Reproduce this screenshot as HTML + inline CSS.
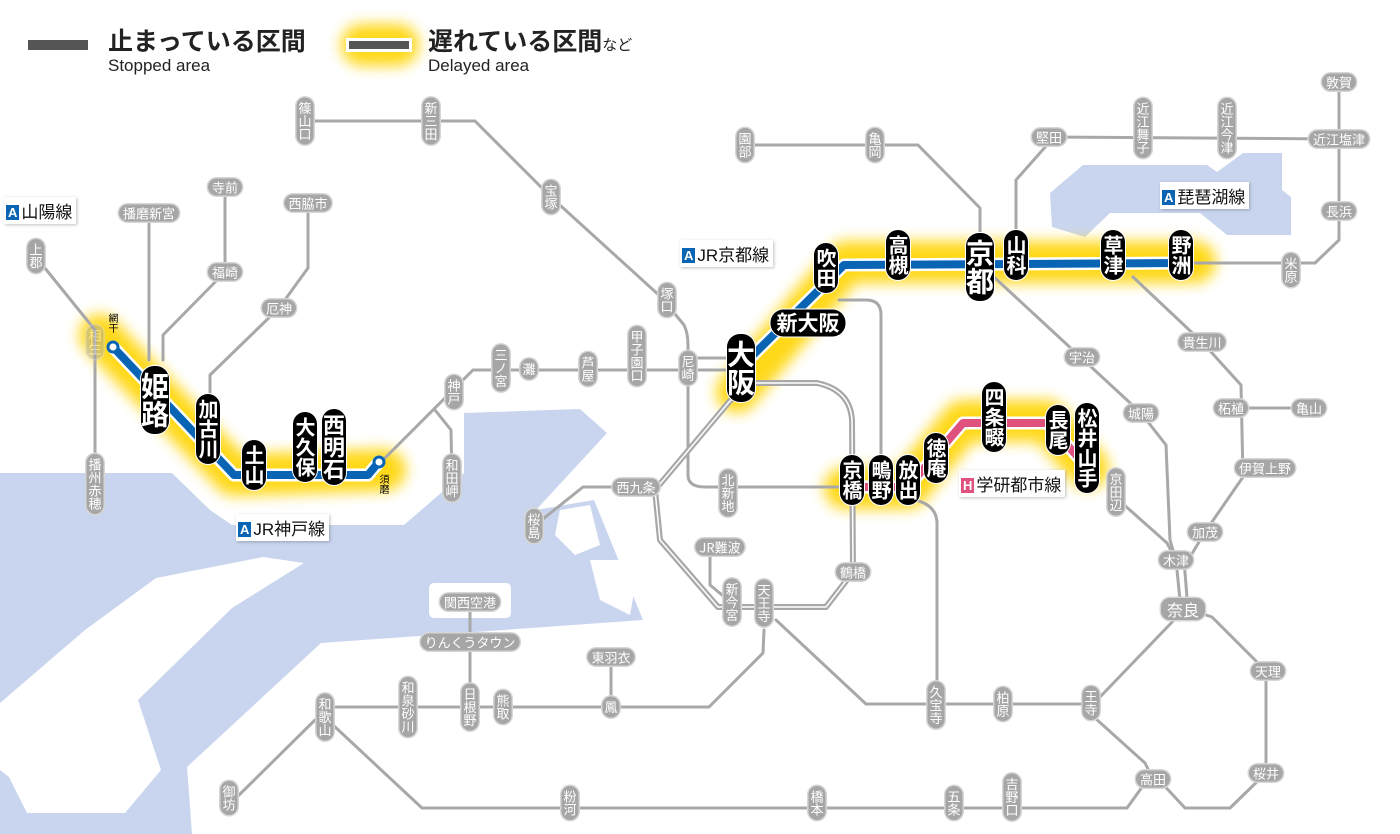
<!DOCTYPE html>
<html><head><meta charset="utf-8"><style>
body{margin:0;background:#fff;}
#m{position:relative;width:1400px;height:834px;overflow:hidden;background:#fff;font-family:"Liberation Sans","Noto Sans CJK JP",sans-serif;}
svg{position:absolute;left:0;top:0}
.p{position:absolute;transform:translate(-50%,-50%);background:#a6a6a6;color:#fff;font-size:13px;line-height:15px;border-radius:9px;padding:1px 4px;white-space:nowrap;box-shadow:0 0 0 1.5px #d6d6d6;font-family:"Noto Sans CJK JP",sans-serif;}
.v{writing-mode:vertical-rl;text-orientation:upright;padding:4px 1px;line-height:15px;}
.k{position:absolute;transform:translate(-50%,-50%);background:#000;color:#fff;font-size:20px;line-height:24px;border-radius:13px;padding:5px 0;white-space:nowrap;font-weight:bold;writing-mode:vertical-rl;text-orientation:upright;font-family:"Noto Sans CJK JP",sans-serif;box-shadow:0 0 0 1px #fff;}
.big{font-size:28px;line-height:28px;padding:6px 0;}
.lab{position:absolute;background:#fff;font-size:17px;color:#111;padding:1px 4px 1px 2px;box-shadow:1px 1px 3px rgba(0,0,0,.25);white-space:nowrap;font-family:"Liberation Sans","Noto Sans CJK JP",sans-serif;}
.lab b{display:inline-block;background:#0a64b4;color:#fff;font-size:13px;line-height:15px;padding:0 2px;margin-right:2px;vertical-align:1px;}
.sm{position:absolute;font-size:10px;line-height:10px;color:#000;writing-mode:vertical-rl;text-orientation:upright;font-family:"Noto Sans CJK JP",sans-serif;}
.t{position:absolute;color:#222;white-space:nowrap;font-family:"Liberation Sans","Noto Sans CJK JP",sans-serif;}
</style></head><body><div id="m">
<svg width="1400" height="834" viewBox="0 0 1400 834">
<defs><filter id="bl" x="-20%" y="-20%" width="140%" height="140%"><feGaussianBlur stdDeviation="7"/></filter></defs>
<g fill="#c9d5ee">
<polygon points="0,473 172,473 210,510 232,525 404,525 464,473 464,413 580,409 607,433 536,510 594,500 643,620 321,643 187,767 192,834 0,834"/>
<polygon points="1083,165 1207,165 1217,172 1243,153 1282,153 1282,190 1291,197 1291,235 1227,235 1200,213 1110,213 1085,237 1052,227 1050,193"/>
</g>
<g fill="#fff">
<polygon points="263,557 304,563 232,608 138,700 161,770 125,813 27,813 9,777 0,770 0,703 85,630 156,578"/>
<rect x="429" y="583" width="82" height="35" rx="5"/>
<polygon points="560,510 590,505 600,545 575,555 555,535"/>
<polygon points="590,560 640,560 630,615 600,600"/>
</g>
<g fill="none" stroke-linecap="round" stroke-linejoin="round">
<path d="M100,335 L234,475 L385,470 M737,392 L846,262 L1195,262 M845,488 L908,488 L963,421 L1047,421 L1088,468 M362,45 L398,45" stroke="#ffd400" stroke-width="42" filter="url(#bl)" opacity=".9"/>
<g stroke="#a8a8a8" stroke-width="3">
<path d="M40,262 L95,330 L95,480"/>
<path d="M149,218 L149,360"/>
<path d="M225,190 L225,272 L163,335 L163,360"/>
<path d="M308,208 L308,268 L279,308 L210,375 L210,405"/>
<path d="M385,458 L473,370 L740,370"/>
<path d="M688,358 L740,358"/>
<path d="M435,410 L451,430 L452,480"/>
<path d="M305,121 L475,121 L551,197 L661,297 L684,325 Q688,333 688,345 L688,475 Q688,487 705,487 L852,487"/>
<path d="M636,487 L583,487 L538,523"/>
<path d="M710,550 L710,585 L728,600"/>
<path d="M764,630 L763,653 L709,707 L325,707"/>
<path d="M470,602 L470,707"/>
<path d="M611,657 L611,707"/>
<path d="M776,620 L866,704 L1091,704 L1100,697 L1176,618 L1191,610 L1212,617 L1255,660 L1266,671 L1266,773 L1230,808 L1185,808 L1158,779"/>
<path d="M1095,718 L1145,763 L1153,779 L1145,783 L1127,808 L422,808 L333,725"/>
<path d="M315,720 L237,797"/>
<path d="M915,500 Q936,505 937,522 L937,690"/>
<path d="M881,463 L881,315 Q881,300 866,300 L839,300"/>
<path d="M745,145 L918,145 L980,208 L980,240"/>
<path d="M1049,137 L1339,139"/>
<path d="M1047,145 L1016,180 L1016,240"/>
<path d="M1339,83 L1339,240 L1315,263 L1181,263"/>
<path d="M994,277 L1075,352 L1141,413 L1166,445 L1170,540 L1176,560 L1181,610"/>
<path d="M1184,560 L1188,610"/>
<path d="M1133,277 L1202,342 L1241,385 L1243,477 L1205,532 L1190,557"/>
<path d="M1231,408 L1309,408"/>
<path d="M1116,470 L1122,503 L1167,543 L1176,560"/>
</g>
<g stroke="#a8a8a8" stroke-width="6">
<path d="M753,383 L817,383 Q850,390 852,420 L853,572 L826,607 L718,607 L660,540 L655,490 L729,402 L741,390"/>
</g>
<g stroke="#fff" stroke-width="1.5">
<path d="M753,383 L817,383 Q850,390 852,420 L853,572 L826,607 L718,607 L660,540 L655,490 L729,402 L741,390"/>
</g>
<path d="M113,347 L234,475 L368,475 L379,462" stroke="#fff" stroke-width="13"/>
<path d="M113,347 L234,475 L368,475 L379,462" stroke="#0a64b4" stroke-width="8"/>
<path d="M741,367 L844,265 L1181,263" stroke="#fff" stroke-width="13"/>
<path d="M741,367 L844,265 L1181,263" stroke="#0a64b4" stroke-width="8"/>
<path d="M852,487 L908,487 L963,423 L1047,423 L1078,457" stroke="#fff" stroke-width="13"/>
<path d="M852,487 L908,487 L963,423 L1047,423 L1078,457" stroke="#e0527e" stroke-width="8"/>
<circle cx="113" cy="347" r="5" fill="#fff" stroke="#0a64b4" stroke-width="3"/>
<circle cx="379" cy="462" r="5" fill="#fff" stroke="#0a64b4" stroke-width="3"/>
<rect x="28" y="40" width="60" height="10" fill="#555"/>
<rect x="346" y="38" width="66" height="14" fill="#fff"/>
<rect x="349" y="41" width="60" height="8" fill="#555"/>
</g>
</svg>

<div class="t" style="left:108px;top:26px;font-size:25px;font-weight:bold;font-family:'Noto Sans CJK JP',sans-serif;line-height:28px">止まっている区間</div>
<div class="t" style="left:108px;top:56px;font-size:17px">Stopped area</div>
<div class="t" style="left:428px;top:26px;font-size:25px;font-weight:bold;font-family:'Noto Sans CJK JP',sans-serif;line-height:28px">遅れている区間<span style="font-size:15px;font-weight:normal">など</span></div>
<div class="t" style="left:428px;top:56px;font-size:17px">Delayed area</div>

<div class="lab" style="left:4px;top:197px"><b>A</b>山陽線</div>
<div class="lab" style="left:236px;top:514px"><b>A</b>JR神戸線</div>
<div class="lab" style="left:680px;top:240px"><b>A</b>JR京都線</div>
<div class="lab" style="left:1160px;top:182px"><b>A</b>琵琶湖線</div>
<div class="lab" style="left:959px;top:470px"><b style="background:#e0527e">H</b>学研都市線</div>

<div class="p v" style="left:36px;top:256px">上郡</div>
<div class="p v" style="left:95px;top:342px;opacity:.45">相生</div>
<div class="p v" style="left:95px;top:484px">播州赤穂</div>
<div class="p" style="left:149px;top:213px">播磨新宮</div>
<div class="p" style="left:225px;top:187px">寺前</div>
<div class="p" style="left:225px;top:272px">福崎</div>
<div class="p" style="left:308px;top:203px">西脇市</div>
<div class="p" style="left:279px;top:308px">厄神</div>
<div class="p v" style="left:305px;top:121px">篠山口</div>
<div class="p v" style="left:431px;top:121px">新三田</div>
<div class="p v" style="left:551px;top:197px">宝塚</div>
<div class="p v" style="left:667px;top:300px">塚口</div>
<div class="p v" style="left:688px;top:368px">尼崎</div>
<div class="p v" style="left:454px;top:392px">神戸</div>
<div class="p v" style="left:501px;top:368px">三ノ宮</div>
<div class="p v" style="left:529px;top:369px">灘</div>
<div class="p v" style="left:588px;top:369px">芦屋</div>
<div class="p v" style="left:637px;top:356px">甲子園口</div>
<div class="p v" style="left:452px;top:478px">和田岬</div>
<div class="p v" style="left:534px;top:526px">桜島</div>
<div class="p" style="left:636px;top:487px">西九条</div>
<div class="p v" style="left:728px;top:493px">北新地</div>
<div class="p" style="left:720px;top:547px">JR難波</div>
<div class="p v" style="left:732px;top:602px">新今宮</div>
<div class="p v" style="left:764px;top:603px">天王寺</div>
<div class="p" style="left:853px;top:572px">鶴橋</div>
<div class="p" style="left:470px;top:602px">関西空港</div>
<div class="p" style="left:470px;top:642px">りんくうタウン</div>
<div class="p" style="left:611px;top:657px">東羽衣</div>
<div class="p v" style="left:611px;top:707px">鳳</div>
<div class="p v" style="left:503px;top:707px">熊取</div>
<div class="p v" style="left:470px;top:707px">日根野</div>
<div class="p v" style="left:408px;top:707px">和泉砂川</div>
<div class="p v" style="left:325px;top:717px">和歌山</div>
<div class="p v" style="left:229px;top:798px">御坊</div>
<div class="p v" style="left:570px;top:803px">粉河</div>
<div class="p v" style="left:817px;top:803px">橋本</div>
<div class="p v" style="left:954px;top:803px">五条</div>
<div class="p v" style="left:1012px;top:797px">吉野口</div>
<div class="p v" style="left:936px;top:705px">久宝寺</div>
<div class="p v" style="left:1003px;top:704px">柏原</div>
<div class="p v" style="left:1091px;top:703px">王寺</div>
<div class="p" style="left:1153px;top:779px">高田</div>
<div class="p" style="left:1266px;top:773px">桜井</div>
<div class="p" style="left:1268px;top:671px">天理</div>
<div class="p" style="left:1183px;top:609px;font-size:16px;line-height:20px;padding:1px 6px">奈良</div>
<div class="p" style="left:1176px;top:560px">木津</div>
<div class="p" style="left:1205px;top:532px">加茂</div>
<div class="p" style="left:1265px;top:468px">伊賀上野</div>
<div class="p" style="left:1231px;top:408px">柘植</div>
<div class="p" style="left:1309px;top:408px">亀山</div>
<div class="p" style="left:1202px;top:342px">貴生川</div>
<div class="p v" style="left:1116px;top:492px">京田辺</div>
<div class="p" style="left:1141px;top:413px">城陽</div>
<div class="p" style="left:1082px;top:357px">宇治</div>
<div class="p v" style="left:745px;top:145px">園部</div>
<div class="p v" style="left:875px;top:145px">亀岡</div>
<div class="p" style="left:1049px;top:137px">堅田</div>
<div class="p v" style="left:1143px;top:128px">近江舞子</div>
<div class="p v" style="left:1227px;top:128px">近江今津</div>
<div class="p" style="left:1339px;top:139px">近江塩津</div>
<div class="p" style="left:1339px;top:82px">敦賀</div>
<div class="p" style="left:1339px;top:211px">長浜</div>
<div class="p v" style="left:1291px;top:270px">米原</div>

<div class="sm" style="left:108px;top:313px">網干</div>
<div class="sm" style="left:379px;top:474px">須磨</div>

<div class="k big" style="left:155px;top:400px">姫路</div>
<div class="k" style="left:208px;top:429px">加古川</div>
<div class="k" style="left:254px;top:465px">土山</div>
<div class="k" style="left:305px;top:447px">大久保</div>
<div class="k" style="left:334px;top:447px;font-size:22px">西明石</div>
<div class="k big" style="left:741px;top:368px">大阪</div>
<div class="k" style="left:808px;top:323px;writing-mode:horizontal-tb;padding:0 6px;line-height:27px;font-size:21px">新大阪</div>
<div class="k" style="left:826px;top:268px">吹田</div>
<div class="k" style="left:898px;top:255px">高槻</div>
<div class="k big" style="left:980px;top:267px">京都</div>
<div class="k" style="left:1016px;top:255px">山科</div>
<div class="k" style="left:1113px;top:255px">草津</div>
<div class="k" style="left:1181px;top:255px">野洲</div>
<div class="k" style="left:852px;top:480px">京橋</div>
<div class="k" style="left:881px;top:480px">鴫野</div>
<div class="k" style="left:908px;top:480px">放出</div>
<div class="k" style="left:936px;top:458px">徳庵</div>
<div class="k" style="left:994px;top:417px">四条畷</div>
<div class="k" style="left:1058px;top:430px">長尾</div>
<div class="k" style="left:1087px;top:448px">松井山手</div>
</div></body></html>
